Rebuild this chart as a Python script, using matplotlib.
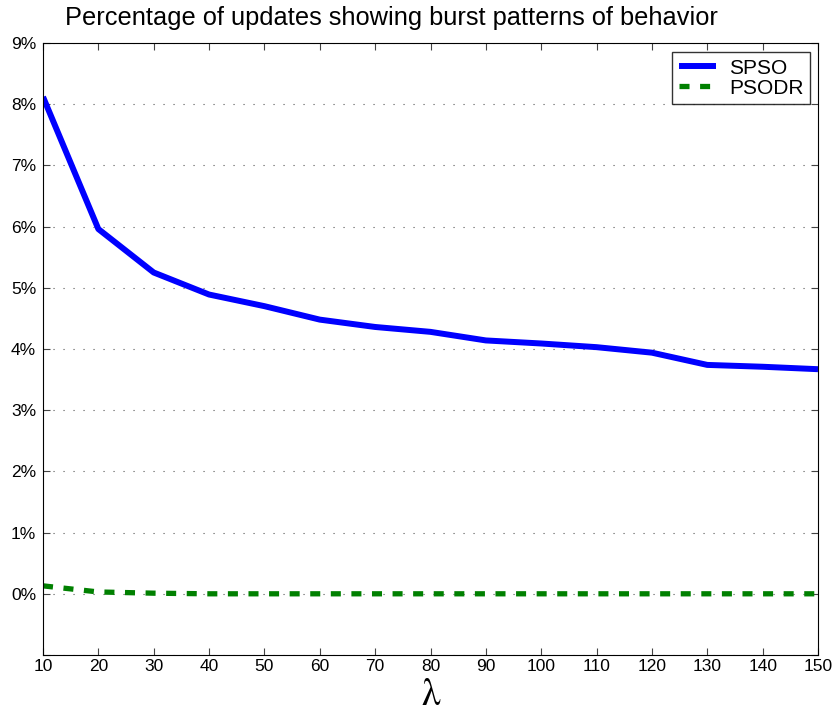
import matplotlib
matplotlib.use("Agg")
import matplotlib.pyplot as plt
import numpy as np

lam = [10, 20, 30, 40, 50, 60, 70, 80, 90, 100, 110, 120, 130, 140, 150]
spso = [8.12, 5.96, 5.25, 4.89, 4.70, 4.48, 4.36, 4.28, 4.14, 4.09, 4.03, 3.94, 3.74, 3.71, 3.67]
psodr = [0.13, 0.03, 0.01, 0.0, 0.0, 0.0, 0.0, 0.0, 0.0, 0.0, 0.0, 0.0, 0.0, 0.0, 0.0]
yticks = [0, 1, 2, 3, 4, 5, 6, 7, 8, 9]
ytick_labels = ["0%", "1%", "2%", "3%", "4%", "5%", "6%", "7%", "8%", "9%"]

plt.rcParams['font.family'] = ['Liberation Sans', 'DejaVu Sans']
fig = plt.figure(figsize=(8.35, 7.14), dpi=100)
ax = fig.add_axes([43/835, 59/714, 775/835, 612/714])

ax.plot(lam, spso, color='#0000ff', lw=4.3, label='SPSO', solid_capstyle='butt')
ax.plot(lam, psodr, color='#008000', lw=3.8, ls=(0, (1.9, 2.0)), label='PSODR')

ax.set_xlim(10, 150)
ax.set_ylim(-1, 9)
ax.set_xticks(lam)
ax.set_yticks([-1] + yticks)
ax.set_yticklabels([""] + ytick_labels)
ax.tick_params(direction='in', top=True, right=True, labelsize=12.5, length=5,
               color='#444444', pad=5)
ax.tick_params(axis='x', pad=3)
ax.grid(axis='y', ls=(0, (1, 8)), color='#555555', lw=0.8)
fig.text(391/835, 1 - 18/714, "Percentage of updates showing burst patterns of behavior",
         fontsize=18.3, ha='center', va='center')
fig.text(431/835, 1/714, r"$\mathrm{\lambda}$", fontsize=27, math_fontfamily='stix',
         ha='center', va='bottom')

leg = ax.legend(loc='upper right', fontsize=15, frameon=True, fancybox=False,
                edgecolor='black', handlelength=1.8, handletextpad=0.6,
                borderaxespad=0.0, borderpad=0.32, labelspacing=0.05,
                bbox_to_anchor=(1 - 8/775, 1 - 9/612))
leg.get_frame().set_linewidth(1.0)

fig.savefig("out.png", dpi=100)
